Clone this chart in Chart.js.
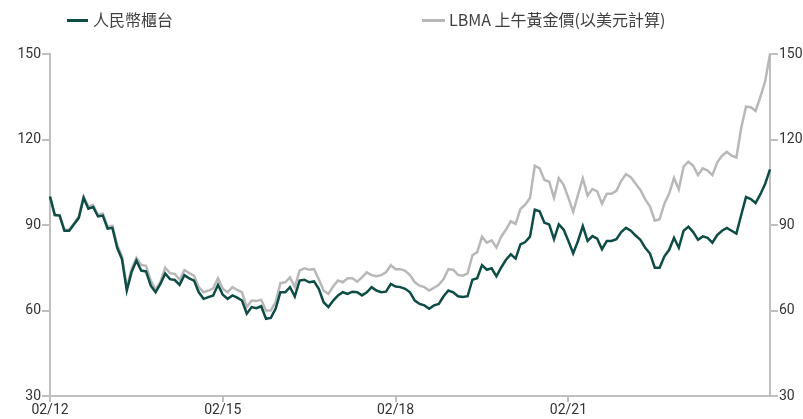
<!DOCTYPE html>
<html>
<head>
<meta charset="utf-8">
<script src="https://cdn.jsdelivr.net/npm/chart.js@4"></script>
<style>
  html, body { margin: 0; padding: 0; background: #fff; }
  #wrap { position: relative; width: 803px; height: 419px; }
  .mk { position: absolute; height: 3px; }
  .lg { position: absolute; font-family: "Noto Sans CJK TC", "Noto Sans", sans-serif; font-size: 16px; color: #404040; line-height: 20px; white-space: nowrap; }
</style>
</head>
<body>
<div id="wrap">
  <canvas id="chart" width="803" height="419"></canvas>
  <div class="mk" style="left:67px;top:19px;width:21px;background:#0d4d45"></div>
  <div class="lg" style="left:93px;top:9px">人民幣櫃台</div>
  <div class="mk" style="left:422px;top:19px;width:23px;background:#b8b8b8"></div>
  <div class="lg" style="left:449px;top:9px">LBMA 上午黃金價(以美元計算)</div>
</div>
<script>
// ---- 數據 (月度, 02/12 = 100) ----
const tickLabels = ['02/12', '02/15', '02/18', '02/21'];

const rmbCounter = [
  100, 93.5, 93.3, 88, 88, 90.3, 92.5, 99.5, 95.7, 96.3,
  93, 93.3, 88.7, 89, 82, 78, 67, 73.5, 77.5, 74,
  73.7, 68.7, 66.4, 69.3, 73, 71, 70.7, 69, 72.4, 71.3,
  70.5, 66.4, 64.1, 64.7, 65.3, 69, 65.5, 64.1, 65.3, 64.5,
  63.5, 58.9, 61.2, 60.8, 61.5, 57.1, 57.4, 60.6, 66.4, 66.4,
  68.2, 64.9, 70.5, 70.8, 69.9, 70.2, 67.6, 62.9, 61.2, 63.5,
  65.3, 66.4, 65.8, 66.6, 66.4, 65.3, 66.4, 68.2, 67, 66.4,
  66.6, 69.3, 68.4, 68.2, 67.6, 66.4, 63.5, 62.3, 61.8, 60.6,
  61.8, 62.3, 65, 67, 66.4, 65, 64.7, 65, 70.8, 71.3,
  75.9, 74.3, 74.8, 72, 75.1, 77.8, 79.7, 78.2, 83.2, 84,
  85.9, 95.4, 94.8, 90.8, 90.2, 85, 90.2, 88.4, 84.4, 80.1,
  84.4, 89.6, 84.4, 86.1, 85.2, 81.5, 84.4, 84.4, 85, 87.5,
  89, 88, 86.3, 84.8, 82, 80, 75, 75, 79, 81.3,
  85.5, 82, 88, 89.4, 87.5, 84.8, 86, 85.5, 83.8, 86.5,
  88, 89, 88, 87, 93.5, 99.8, 99.1, 97.7, 100.8, 104.5,
  109.5
];

const lbmaGold = [
  100, 93.5, 93.5, 88.3, 88.3, 90.5, 93, 100, 96.5, 97,
  93.5, 94, 89.5, 89.7, 83, 79, 68, 74.5, 78.5, 76,
  75.7, 70.5, 67.3, 70, 75, 73.1, 72.8, 70.8, 74.2, 73.1,
  72.2, 68.2, 66.4, 67, 67.8, 71.3, 67.6, 66.4, 68.2, 67.2,
  66.4, 61.2, 63.5, 63.3, 63.8, 60, 60, 62.9, 69.6, 69.9,
  71.6, 68.2, 74, 74.8, 74.3, 74.5, 71, 67, 65.8, 68.5,
  70.5, 69.9, 71.3, 71.3, 70.1, 71.6, 73.4, 72.4, 72, 72.4,
  73.4, 75.9, 74.5, 74.5, 73.9, 72.4, 69.9, 68.7, 68.2, 67,
  68, 69, 71, 74.5, 74.3, 72.5, 72.2, 73, 79.4, 80.5,
  85.9, 83.8, 84.6, 82.1, 85.9, 88.4, 91.3, 90.4, 95.6, 97.1,
  99.5, 110.8, 109.9, 105.8, 105.2, 99.5, 106.4, 104.1, 99.5, 94.6,
  100.6, 106.4, 100.3, 102.6, 101.8, 97.5, 101, 101, 102, 105.5,
  107.8, 106.8, 104.5, 102.3, 99, 96.5, 91.5, 92, 97.5, 101,
  106.5, 102.5, 110.5, 112.2, 110.8, 107.5, 109.9, 109.1, 107.5, 112,
  114.3, 115.7, 114.3, 113.7, 124, 131.5, 131.3, 130, 135, 140.5,
  150
];

// 月份標籤 MM/YY, 由 02/12 起
const months = [];
for (let i = 0; i < rmbCounter.length; i++) {
  const m = (1 + i) % 12 + 1;
  const y = 12 + Math.floor((1 + i) / 12);
  months.push(String(m).padStart(2, '0') + '/' + String(y).padStart(2, '0'));
}

const axisGrey = '#bfbfbf';
const tickFont = { family: 'Roboto, "Noto Sans", sans-serif', size: 14 };

function yAxis(pos, width) {
  return {
    position: pos,
    min: 30,
    max: 150,
    border: { display: true, color: axisGrey, width: 2 },
    grid: { display: true, drawOnChartArea: false, drawTicks: true, tickLength: 8, color: axisGrey, lineWidth: 2 },
    ticks: { stepSize: 30, color: '#333', font: tickFont, padding: 1 },
    afterFit(scale) { scale.width = width; }
  };
}

new Chart(document.getElementById('chart'), {
  type: 'line',
  data: {
    labels: months,
    datasets: [
      {
        label: '人民幣櫃台',
        data: rmbCounter,
        borderColor: '#0d4d45',
        borderWidth: 2.5,
        pointRadius: 0,
        tension: 0,
        yAxisID: 'y'
      },
      {
        label: 'LBMA 上午黃金價(以美元計算)',
        data: lbmaGold,
        borderColor: '#b8b8b8',
        borderWidth: 2.5,
        pointRadius: 0,
        tension: 0,
        yAxisID: 'y2'
      }
    ]
  },
  options: {
    responsive: false,
    animation: false,
    layout: { padding: { top: 54, left: 0, right: 0, bottom: 0 } },
    plugins: {
      legend: { display: false },
      tooltip: { enabled: false }
    },
    scales: {
      x: {
        offset: false,
        border: { display: true, color: axisGrey, width: 2 },
        grid: { display: true, drawOnChartArea: false, drawTicks: true, tickLength: 6, color: axisGrey, lineWidth: 2 },
        ticks: {
          autoSkip: false,
          maxRotation: 0,
          padding: 0,
          color: '#333',
          font: tickFont,
          callback: function(value) {
            const lab = this.getLabelForValue(value);
            return tickLabels.includes(lab) ? lab : null;
          }
        },
        afterFit(scale) { scale.height = 23; }
      },
      y: yAxis('left', 50),
      y2: yAxis('right', 33)
    }
  }
});
</script>
</body>
</html>
